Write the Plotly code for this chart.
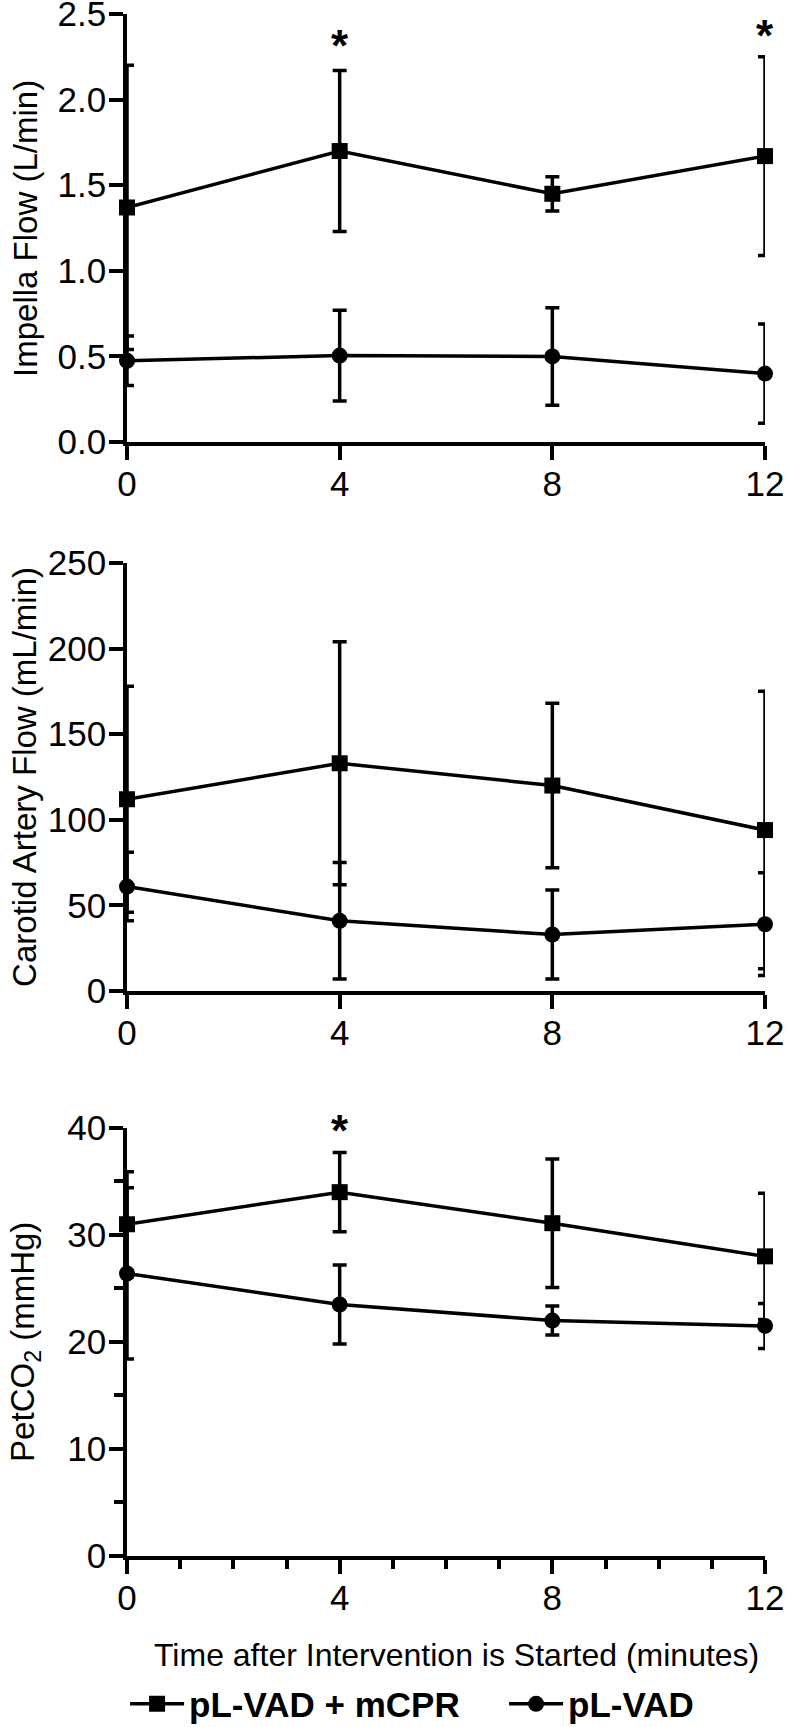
import plotly.graph_objects as go

# ---- data ----
time_min = [0, 4, 8, 12]

impella_mcpr = [1.37, 1.70, 1.45, 1.67]
impella_mcpr_err = [0.83, 0.47, 0.10, 0.58]
impella_vad = [0.475, 0.505, 0.50, 0.40]
impella_vad_err = [0.145, 0.265, 0.285, 0.29]

carotid_mcpr = [112, 133, 120, 94]
carotid_mcpr_err = [66, 71, 48, 81]
carotid_vad = [61, 41, 33, 39]
carotid_vad_err = [20, 34, 26, 30]

petco2_mcpr = [31.0, 34.0, 31.1, 28.0]
petco2_mcpr_err = [4.9, 3.7, 6.0, 5.9]
petco2_vad = [26.4, 23.5, 22.0, 21.5]
petco2_vad_err = [8.0, 3.7, 1.35, 2.1]

# significance markers (x, y) per panel
sig_impella_x = [4, 12]
sig_impella_y = [2.36, 2.42]
sig_petco2_x = [4]
sig_petco2_y = [40.5]

series_names = ["pL-VAD + mCPR", "pL-VAD"]
y_titles = ["Impella Flow (L/min)", "Carotid Artery Flow (mL/min)", "PetCO<sub>2</sub> (mmHg)"]
x_title = "Time after Intervention is Started (minutes)"

FONT = "Liberation Sans, Arial, sans-serif"

fig = go.Figure()

panels = [
    (impella_mcpr, impella_mcpr_err, impella_vad, impella_vad_err, "x", "y"),
    (carotid_mcpr, carotid_mcpr_err, carotid_vad, carotid_vad_err, "x2", "y2"),
    (petco2_mcpr, petco2_mcpr_err, petco2_vad, petco2_vad_err, "x3", "y3"),
]

for i, (m, me, v, ve, xa, ya) in enumerate(panels):
    for name, vals, errs, sym in [(series_names[0], m, me, "square"),
                                   (series_names[1], v, ve, "circle")]:
        fig.add_trace(go.Scatter(
            x=time_min, y=vals, name=name, xaxis=xa, yaxis=ya,
            mode="lines+markers",
            line=dict(color="black", width=3.5),
            marker=dict(symbol=sym, size=16, color="black", line=dict(width=0)),
            error_y=dict(type="data", array=errs, visible=True,
                         thickness=3.5, width=7, color="black"),
            cliponaxis=False,
            showlegend=(i == 0),
        ))

axis_common = dict(
    showline=True, linecolor="black", linewidth=3.5,
    ticks="outside", ticklen=14, tickwidth=3.5, tickcolor="black",
    showgrid=False, zeroline=False, automargin=False,
    ticklabeloverflow="allow",
    tickfont=dict(family=FONT, size=35, color="black"),
)

doms = [[0.7224, 1.0], [0.3664, 0.6440], [0.0, 0.2776]]
yranges = [[0, 2.5], [0, 250], [0, 40]]
ydticks = [0.5, 50, 10]
yfmt = [".1f", "d", "d"]

for k in range(3):
    sx = "" if k == 0 else str(k + 1)
    xa = dict(axis_common, domain=[0, 1], range=[0, 12], tick0=0, dtick=4,
              anchor="y" + sx, ticklabelstandoff=-6)
    ya = dict(axis_common, domain=doms[k], range=yranges[k], tick0=0,
              dtick=ydticks[k], tickformat=yfmt[k], anchor="x" + sx,
              ticklabelstandoff=-4)
    if k == 2:
        xa["minor"] = dict(dtick=1, tick0=0, ticks="outside", ticklen=9,
                           tickwidth=3.5, tickcolor="black")
        ya["minor"] = dict(dtick=5, tick0=0, ticks="outside", ticklen=9,
                           tickwidth=3.5, tickcolor="black")
    fig.update_layout({"xaxis" + sx: xa, "yaxis" + sx: ya})

annotations = []
for k, t in enumerate(y_titles):
    annotations.append(dict(
        text=t, xref="paper", yref="paper", x=-0.16,
        y=(doms[k][0] + doms[k][1]) / 2, textangle=-90,
        showarrow=False, xanchor="center", yanchor="middle",
        font=dict(family=FONT, size=33, color="black")))

annotations.append(dict(
    text=x_title, xref="paper", yref="paper", x=0.517, y=-0.0642,
    showarrow=False, xanchor="center", yanchor="middle",
    font=dict(family=FONT, size=32, color="black")))

# asterisks: annotations outside the axis range are hidden by plotly,
# so clamp to the range top and shift by the overshoot in pixels
PLOT_H = 1727 - 14 - 171
for xs, ys, xr, yr, k in [(sig_impella_x, sig_impella_y, "x", "y", 0),
                          (sig_petco2_x, sig_petco2_y, "x3", "y3", 2)]:
    ymax = yranges[k][1]
    px_per_unit = PLOT_H * (doms[k][1] - doms[k][0]) / (ymax - yranges[k][0])
    for xv, yv in zip(xs, ys):
        over = max(0.0, yv - ymax)
        annotations.append(dict(
            text="<b>*</b>", xref=xr, yref=yr, x=xv, y=min(yv, ymax),
            showarrow=False, xanchor="center", yanchor="middle",
            yshift=-8 + over * px_per_unit,
            font=dict(family=FONT, size=44, color="black")))

fig.update_layout(
    width=787, height=1727,
    margin=dict(l=127, r=22, t=14, b=171, autoexpand=False),
    plot_bgcolor="white", paper_bgcolor="white",
    annotations=annotations,
    showlegend=True,
    legend=dict(orientation="h", x=-0.003, xanchor="left", y=-0.096,
                yanchor="middle", xref="paper", yref="paper",
                font=dict(family=FONT, size=35, color="black", weight="bold"),
                itemwidth=54, entrywidth=310, entrywidthmode="pixels",
                bgcolor="rgba(0,0,0,0)"),
)

fig.write_html("out.html", config={"displayModeBar": False},
               post_script="document.body.style.margin='0';document.body.style.overflow='hidden';")
